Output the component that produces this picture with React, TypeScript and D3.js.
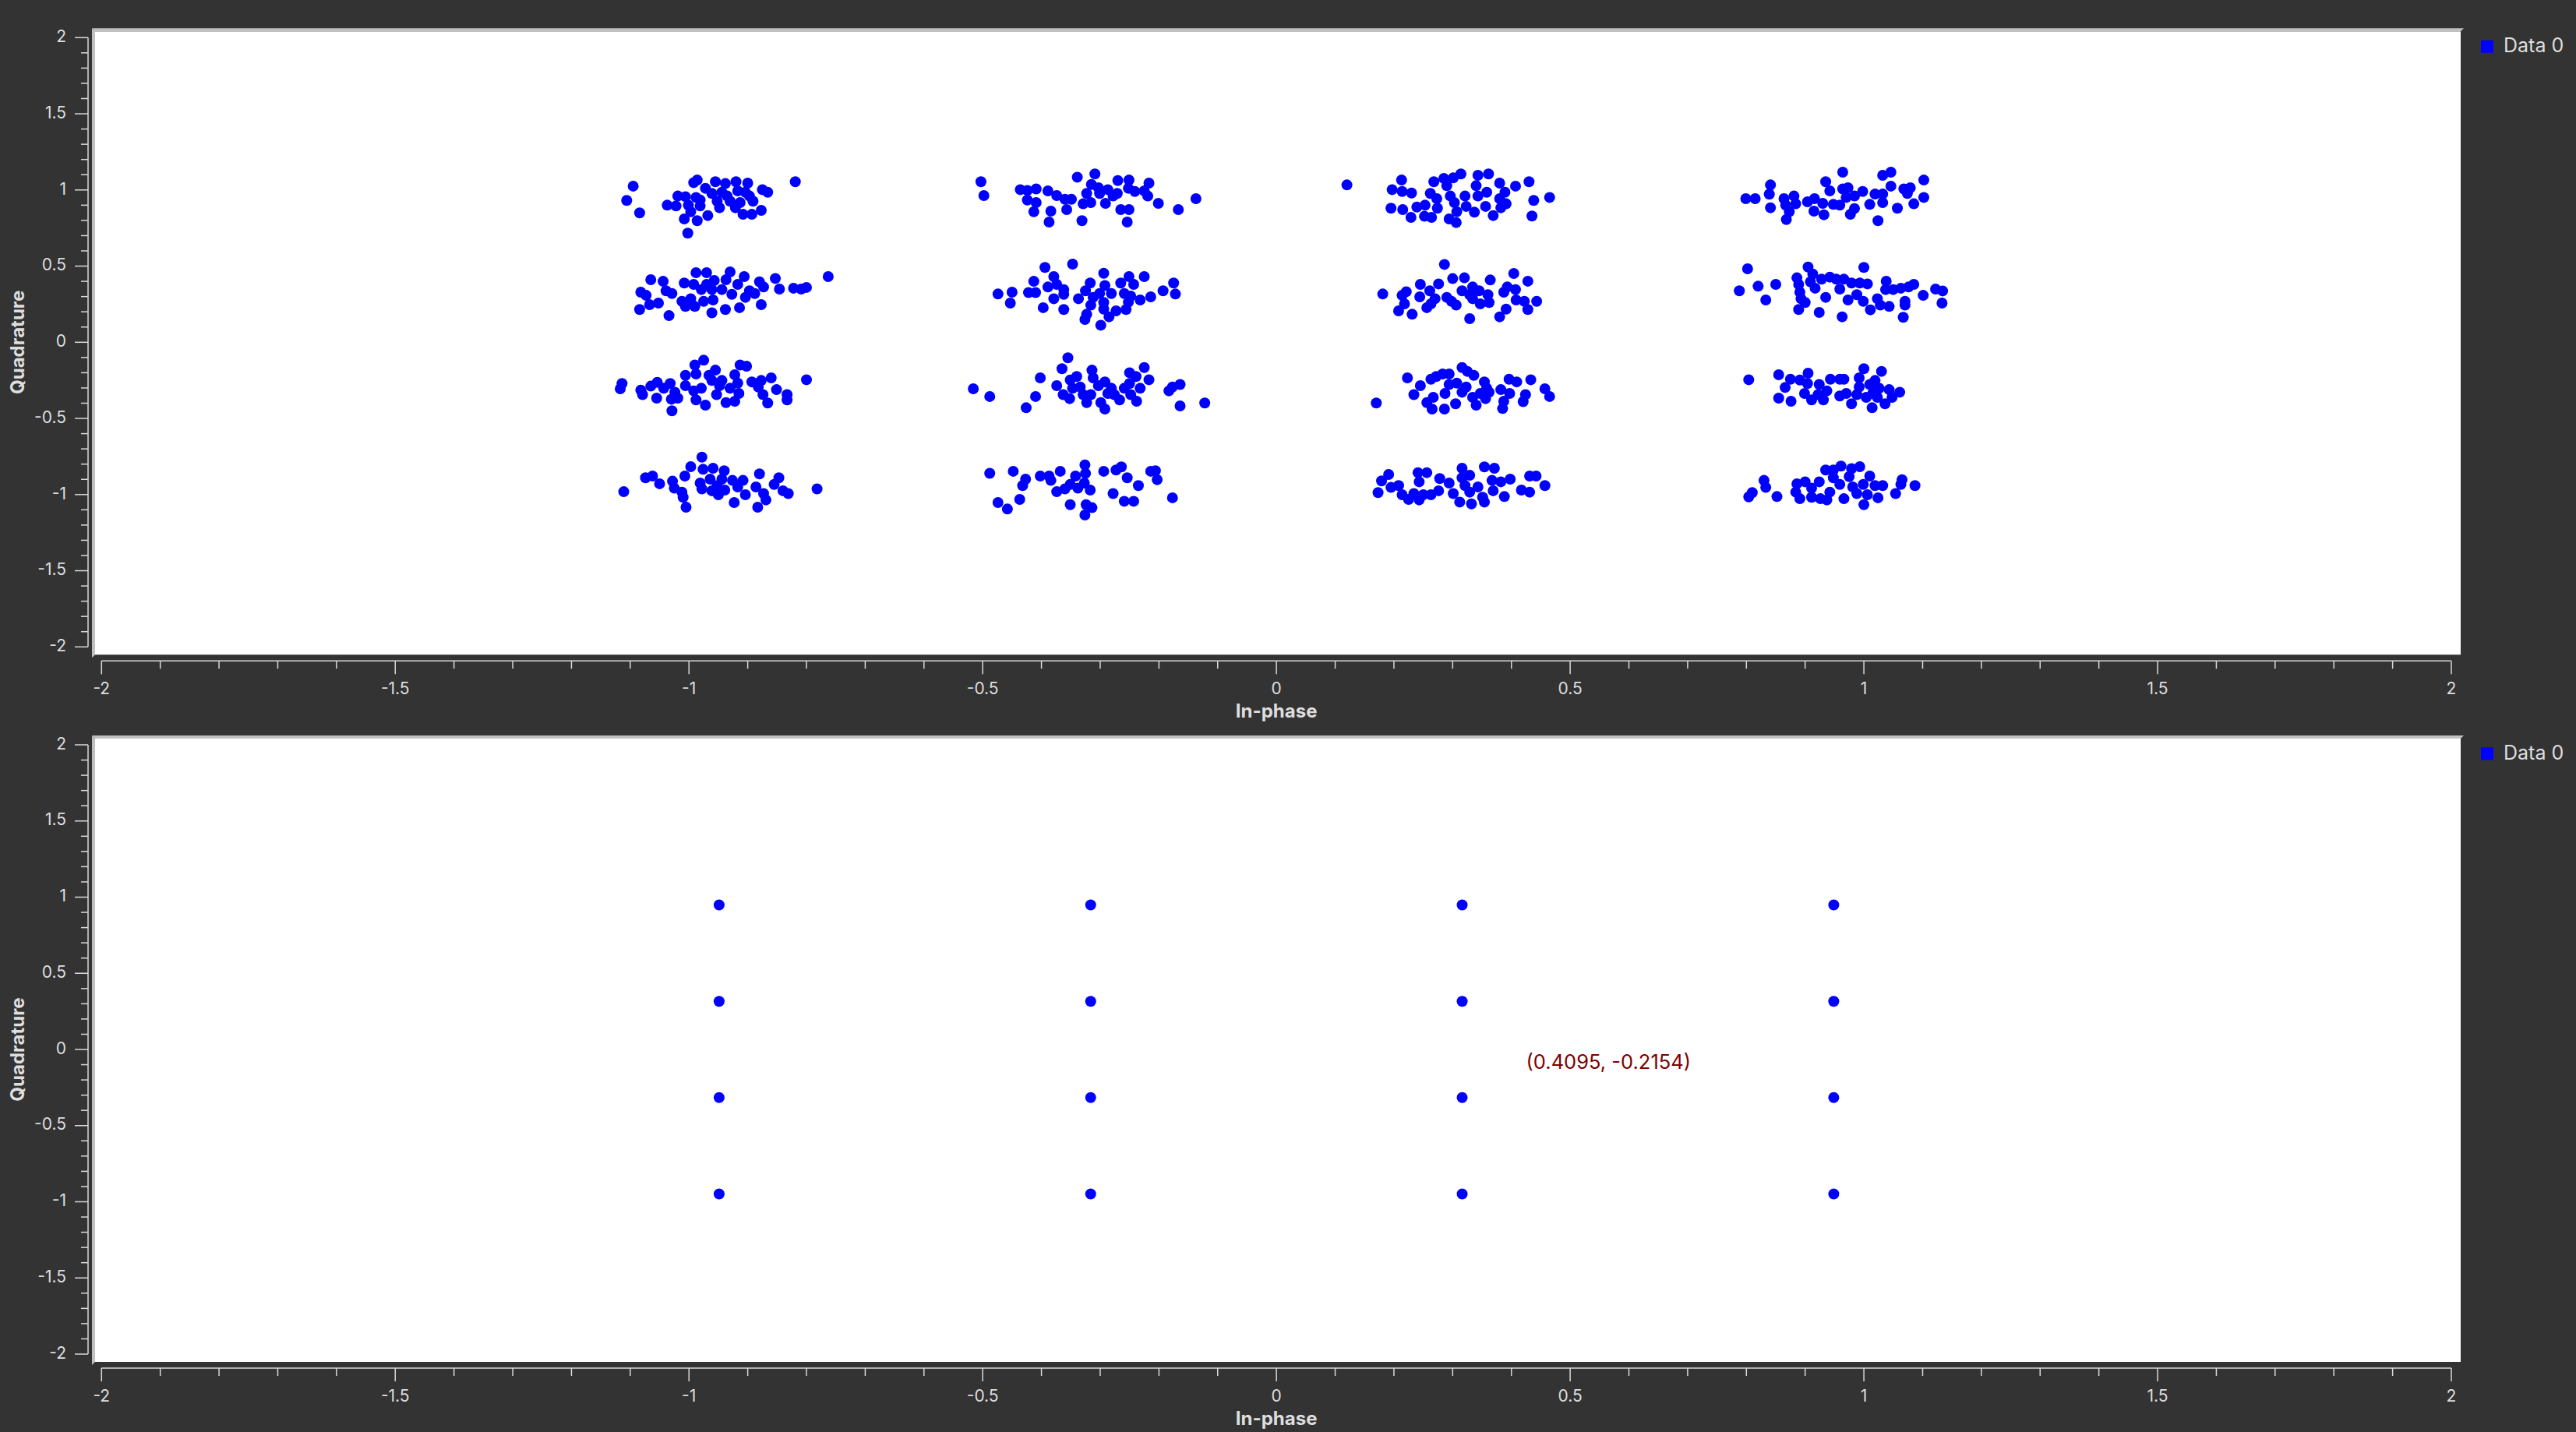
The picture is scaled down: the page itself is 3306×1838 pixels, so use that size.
import React, { useEffect } from "react"
import * as d3 from "d3"

type IQ = [number, number]

// received symbols, one array per constellation cluster: [in-phase, quadrature]
const rxA1: IQ[] = [
  [-1.095, 1.025], [-1.106, 0.931], [-1.084, 0.849], [-0.819, 1.054], [-0.986, 1.065], [-0.992, 1.048],
  [-0.955, 1.054], [-0.938, 1.042], [-0.92, 1.054], [-0.9, 1.045], [-0.875, 1.002], [-0.866, 0.985],
  [-0.972, 1.011], [-0.961, 0.977], [-0.944, 0.985], [-0.917, 0.994], [-0.904, 0.985], [-1.019, 0.96],
  [-1.006, 0.956], [-0.988, 0.951], [-0.981, 0.934], [-1.037, 0.9], [-1.022, 0.895], [-1.001, 0.9],
  [-0.981, 0.895], [-0.948, 0.883], [-0.93, 0.926], [-0.913, 0.917], [-0.891, 0.926], [-0.877, 0.866],
  [-0.908, 0.84], [-0.893, 0.84], [-0.921, 0.883], [-0.997, 0.857], [-1.008, 0.81], [-0.986, 0.798],
  [-0.968, 0.832], [-1.002, 0.716], [-0.935, 0.96], [-0.897, 0.96], [-0.952, 0.926],
]
const rxA2: IQ[] = [
  [-1.065, 0.411], [-1.044, 0.4], [-1.082, 0.329], [-1.073, 0.308], [-1.084, 0.215], [-1.067, 0.247],
  [-1.052, 0.257], [-1.034, 0.175], [-1.039, 0.338], [-1.029, 0.32], [-1.008, 0.389], [-0.988, 0.457],
  [-0.97, 0.457], [-0.957, 0.406], [-0.93, 0.462], [-0.937, 0.411], [-0.906, 0.431], [-0.917, 0.38],
  [-0.992, 0.38], [-0.979, 0.346], [-0.961, 0.346], [-0.944, 0.346], [-0.927, 0.315], [-1.012, 0.269],
  [-0.997, 0.286], [-1.006, 0.235], [-0.99, 0.235], [-0.975, 0.269], [-0.959, 0.278], [-0.961, 0.193],
  [-0.938, 0.215], [-0.914, 0.227], [-0.904, 0.295], [-0.897, 0.338], [-0.88, 0.397], [-0.873, 0.363],
  [-0.888, 0.32], [-0.877, 0.247], [-0.853, 0.419], [-0.846, 0.349], [-0.822, 0.355], [-0.809, 0.349],
  [-0.8, 0.36], [-0.763, 0.431], [-0.97, 0.38],
]
const rxA3: IQ[] = [
  [-1.114, -0.271], [-1.117, -0.305], [-1.082, -0.314], [-1.079, -0.344], [-1.065, -0.288], [-1.054, -0.263],
  [-1.043, -0.302], [-1.032, -0.271], [-1.055, -0.367], [-1.03, -0.374], [-1.019, -0.367], [-1.024, -0.328],
  [-1.029, -0.45], [-1.006, -0.217], [-0.988, -0.208], [-0.99, -0.149], [-0.975, -0.118], [-1.006, -0.285],
  [-0.992, -0.319], [-0.988, -0.378], [-0.972, -0.413], [-0.979, -0.302], [-0.961, -0.251], [-0.955, -0.183],
  [-0.966, -0.217], [-0.948, -0.285], [-0.953, -0.344], [-0.937, -0.396], [-0.922, -0.387], [-0.93, -0.302],
  [-0.917, -0.268], [-0.922, -0.213], [-0.913, -0.149], [-0.902, -0.157], [-0.915, -0.336], [-0.893, -0.26],
  [-0.877, -0.251], [-0.86, -0.234], [-0.882, -0.294], [-0.851, -0.311], [-0.874, -0.344], [-0.866, -0.399],
  [-0.833, -0.344], [-0.833, -0.378], [-0.8, -0.246], [-0.944, -0.251],
]
const rxA4: IQ[] = [
  [-1.111, -0.981], [-1.074, -0.89], [-1.062, -0.878], [-1.05, -0.929], [-1.028, -0.912], [-1.025, -0.958],
  [-1.012, -0.984], [-1.01, -1.018], [-1.005, -1.083], [-1.007, -0.878], [-0.997, -0.817], [-0.978, -0.754],
  [-0.976, -0.834], [-0.959, -0.827], [-0.94, -0.844], [-0.981, -0.924], [-0.978, -0.963], [-0.964, -0.899],
  [-0.952, -0.941], [-0.961, -0.975], [-0.95, -1.001], [-0.939, -0.97], [-0.944, -0.899], [-0.926, -0.907],
  [-0.908, -0.907], [-0.917, -0.95], [-0.904, -1.001], [-0.923, -1.052], [-0.88, -0.864], [-0.886, -0.95],
  [-0.873, -0.993], [-0.869, -1.035], [-0.883, -1.083], [-0.855, -0.933], [-0.847, -0.89], [-0.84, -0.975],
  [-0.831, -0.993], [-0.782, -0.963],
]
const rxB1: IQ[] = [
  [-0.503, 1.054], [-0.498, 0.963], [-0.436, 1.002], [-0.424, 0.997], [-0.409, 1.007], [-0.424, 0.934],
  [-0.409, 0.917], [-0.413, 0.857], [-0.389, 0.994], [-0.374, 0.963], [-0.36, 0.939], [-0.349, 0.939],
  [-0.384, 0.861], [-0.387, 0.789], [-0.357, 0.871], [-0.339, 1.084], [-0.309, 1.105], [-0.315, 1.036],
  [-0.303, 1.014], [-0.323, 0.977], [-0.329, 0.909], [-0.316, 0.917], [-0.331, 0.798], [-0.301, 0.977],
  [-0.287, 1.002], [-0.278, 0.96], [-0.27, 1.062], [-0.291, 0.912], [-0.271, 0.977], [-0.265, 0.871],
  [-0.251, 0.871], [-0.254, 0.789], [-0.251, 1.065], [-0.252, 1.011], [-0.241, 0.99], [-0.225, 0.994],
  [-0.217, 1.045], [-0.219, 0.96], [-0.201, 0.912], [-0.167, 0.871], [-0.137, 0.943],
]
const rxB2: IQ[] = [
  [-0.394, 0.491], [-0.347, 0.513], [-0.474, 0.317], [-0.45, 0.329], [-0.453, 0.257], [-0.422, 0.326],
  [-0.41, 0.326], [-0.413, 0.4], [-0.379, 0.431], [-0.389, 0.363], [-0.374, 0.38], [-0.362, 0.346],
  [-0.362, 0.315], [-0.379, 0.286], [-0.397, 0.227], [-0.362, 0.215], [-0.337, 0.286], [-0.325, 0.338],
  [-0.317, 0.389], [-0.316, 0.244], [-0.323, 0.184], [-0.326, 0.15], [-0.294, 0.453], [-0.292, 0.372],
  [-0.301, 0.32], [-0.281, 0.32], [-0.294, 0.261], [-0.294, 0.218], [-0.285, 0.167], [-0.299, 0.112],
  [-0.273, 0.206], [-0.256, 0.215], [-0.265, 0.389], [-0.251, 0.431], [-0.243, 0.38], [-0.259, 0.32],
  [-0.248, 0.303], [-0.252, 0.264], [-0.232, 0.278], [-0.214, 0.298], [-0.225, 0.431], [-0.193, 0.338],
  [-0.175, 0.389], [-0.172, 0.317], [-0.312, 0.295],
]
const rxB3: IQ[] = [
  [-0.516, -0.305], [-0.488, -0.356], [-0.426, -0.43], [-0.41, -0.356], [-0.402, -0.234], [-0.374, -0.285],
  [-0.365, -0.174], [-0.355, -0.102], [-0.363, -0.344], [-0.352, -0.37], [-0.351, -0.248], [-0.34, -0.225],
  [-0.347, -0.302], [-0.334, -0.294], [-0.323, -0.396], [-0.316, -0.344], [-0.314, -0.183], [-0.312, -0.234],
  [-0.303, -0.285], [-0.292, -0.26], [-0.299, -0.396], [-0.292, -0.438], [-0.287, -0.336], [-0.276, -0.344],
  [-0.281, -0.302], [-0.267, -0.378], [-0.259, -0.302], [-0.25, -0.2], [-0.239, -0.225], [-0.25, -0.271],
  [-0.232, -0.302], [-0.248, -0.344], [-0.238, -0.387], [-0.225, -0.166], [-0.217, -0.246], [-0.183, -0.319],
  [-0.177, -0.294], [-0.164, -0.277], [-0.164, -0.418], [-0.122, -0.399], [-0.329, -0.344],
]
const rxB4: IQ[] = [
  [-0.488, -0.86], [-0.448, -0.847], [-0.427, -0.899], [-0.432, -0.941], [-0.437, -1.032], [-0.474, -1.052],
  [-0.458, -1.095], [-0.402, -0.878], [-0.387, -0.878], [-0.384, -0.907], [-0.368, -0.847], [-0.374, -0.981],
  [-0.36, -0.963], [-0.351, -0.933], [-0.342, -0.878], [-0.326, -0.805], [-0.325, -0.861], [-0.327, -0.924],
  [-0.338, -0.958], [-0.317, -0.97], [-0.351, -1.066], [-0.324, -1.066], [-0.314, -1.086], [-0.326, -1.134],
  [-0.294, -0.847], [-0.273, -0.839], [-0.264, -0.818], [-0.254, -0.89], [-0.278, -0.993], [-0.235, -0.941],
  [-0.259, -1.044], [-0.243, -1.044], [-0.214, -0.847], [-0.203, -0.902], [-0.206, -0.844], [-0.177, -1.021],
]
const rxC1: IQ[] = [
  [0.12, 1.033], [0.213, 1.065], [0.197, 1.002], [0.214, 0.99], [0.23, 0.98], [0.195, 0.88],
  [0.215, 0.871], [0.229, 0.82], [0.239, 0.888], [0.253, 0.9], [0.252, 0.827], [0.264, 0.82],
  [0.262, 0.977], [0.273, 0.943], [0.274, 0.88], [0.268, 1.054], [0.285, 1.076], [0.301, 1.079],
  [0.314, 1.105], [0.29, 1.028], [0.296, 0.96], [0.303, 0.917], [0.307, 0.857], [0.294, 0.81],
  [0.306, 0.786], [0.321, 0.96], [0.323, 0.892], [0.34, 1.028], [0.343, 1.096], [0.361, 1.105],
  [0.343, 0.96], [0.337, 0.854], [0.358, 0.985], [0.356, 0.892], [0.369, 0.832], [0.38, 1.045],
  [0.389, 0.985], [0.407, 1.025], [0.38, 0.943], [0.391, 0.909], [0.382, 0.883], [0.43, 1.054],
  [0.438, 0.931], [0.435, 0.829], [0.465, 0.951],
]
const rxC2: IQ[] = [
  [0.286, 0.511], [0.181, 0.317], [0.214, 0.308], [0.221, 0.332], [0.218, 0.252], [0.208, 0.206],
  [0.231, 0.184], [0.245, 0.38], [0.244, 0.298], [0.261, 0.338], [0.276, 0.383], [0.27, 0.286],
  [0.256, 0.227], [0.263, 0.252], [0.29, 0.295], [0.298, 0.269], [0.306, 0.244], [0.3, 0.418],
  [0.32, 0.423], [0.316, 0.338], [0.329, 0.312], [0.334, 0.363], [0.345, 0.338], [0.334, 0.286],
  [0.329, 0.155], [0.347, 0.252], [0.36, 0.312], [0.362, 0.261], [0.364, 0.409], [0.387, 0.329],
  [0.393, 0.363], [0.404, 0.452], [0.407, 0.346], [0.408, 0.278], [0.391, 0.218], [0.38, 0.167],
  [0.422, 0.269], [0.428, 0.215], [0.428, 0.401], [0.443, 0.269],
]
const rxC3: IQ[] = [
  [0.17, -0.399], [0.223, -0.234], [0.234, -0.344], [0.245, -0.285], [0.256, -0.396], [0.265, -0.438],
  [0.267, -0.362], [0.263, -0.243], [0.272, -0.225], [0.283, -0.208], [0.294, -0.208], [0.287, -0.336],
  [0.286, -0.438], [0.294, -0.277], [0.305, -0.404], [0.307, -0.268], [0.316, -0.166], [0.325, -0.191],
  [0.336, -0.217], [0.323, -0.294], [0.316, -0.328], [0.334, -0.362], [0.34, -0.413], [0.347, -0.336],
  [0.354, -0.26], [0.358, -0.302], [0.356, -0.37], [0.362, -0.328], [0.382, -0.311], [0.396, -0.243],
  [0.409, -0.26], [0.397, -0.336], [0.387, -0.387], [0.385, -0.435], [0.433, -0.246], [0.424, -0.344],
  [0.42, -0.39], [0.457, -0.305], [0.465, -0.356],
]
const rxC4: IQ[] = [
  [0.173, -0.987], [0.179, -0.91], [0.191, -0.868], [0.195, -0.953], [0.208, -0.941], [0.214, -1.001],
  [0.225, -1.032], [0.241, -0.856], [0.256, -0.856], [0.243, -0.916], [0.234, -0.993], [0.243, -1.035],
  [0.25, -1.001], [0.263, -1.001], [0.276, -0.975], [0.278, -0.895], [0.294, -0.924], [0.301, -0.993],
  [0.312, -1.049], [0.316, -0.827], [0.316, -0.89], [0.329, -0.873], [0.321, -0.941], [0.329, -0.984],
  [0.332, -1.061], [0.343, -0.95], [0.354, -0.818], [0.371, -0.827], [0.351, -1.018], [0.354, -1.049],
  [0.367, -0.907], [0.369, -0.975], [0.382, -0.916], [0.398, -0.899], [0.388, -1.013], [0.417, -0.97],
  [0.431, -0.878], [0.442, -0.878], [0.431, -0.984], [0.457, -0.941],
]
const rxD1: IQ[] = [
  [0.799, 0.943], [0.815, 0.943], [0.841, 1.033], [0.839, 0.972], [0.841, 0.883], [0.864, 0.943],
  [0.881, 0.96], [0.867, 0.9], [0.884, 0.909], [0.873, 0.857], [0.868, 0.806], [0.904, 0.922],
  [0.916, 0.943], [0.93, 0.912], [0.915, 0.861], [0.932, 0.837], [0.935, 1.054], [0.942, 0.994],
  [0.948, 0.905], [0.964, 1.117], [0.964, 1.007], [0.973, 1.014], [0.959, 0.9], [0.97, 0.951],
  [0.984, 0.96], [0.984, 0.878], [0.977, 0.84], [0.998, 0.99], [1.01, 0.905], [1.019, 0.973],
  [1.032, 0.973], [1.032, 0.917], [1.024, 0.798], [1.032, 1.096], [1.046, 1.117], [1.046, 1.025],
  [1.057, 0.88], [1.068, 1.007], [1.079, 1.014], [1.074, 0.977], [1.085, 0.909], [1.102, 1.065],
  [1.102, 0.951],
]
const rxD2: IQ[] = [
  [0.802, 0.482], [0.788, 0.338], [0.82, 0.368], [0.833, 0.278], [0.85, 0.38], [0.886, 0.423],
  [0.889, 0.38], [0.891, 0.329], [0.893, 0.286], [0.9, 0.261], [0.889, 0.215], [0.905, 0.494],
  [0.913, 0.448], [0.909, 0.397], [0.917, 0.355], [0.924, 0.196], [0.928, 0.414], [0.942, 0.428],
  [0.935, 0.295], [0.953, 0.414], [0.959, 0.349], [0.966, 0.414], [0.973, 0.278], [0.963, 0.167],
  [0.979, 0.389], [0.993, 0.389], [0.988, 0.312], [1.0, 0.491], [1.006, 0.383], [0.999, 0.269],
  [1.011, 0.213], [1.023, 0.286], [1.028, 0.244], [1.038, 0.401], [1.037, 0.346], [1.043, 0.235],
  [1.05, 0.346], [1.063, 0.355], [1.07, 0.269], [1.07, 0.244], [1.067, 0.164], [1.085, 0.38],
  [1.076, 0.363], [1.101, 0.308], [1.122, 0.349], [1.134, 0.337], [1.133, 0.257],
]
const rxD3: IQ[] = [
  [0.804, -0.246], [0.855, -0.213], [0.866, -0.297], [0.855, -0.367], [0.876, -0.387], [0.875, -0.243],
  [0.891, -0.248], [0.905, -0.203], [0.904, -0.271], [0.899, -0.336], [0.911, -0.378], [0.924, -0.277],
  [0.922, -0.344], [0.931, -0.378], [0.943, -0.243], [0.937, -0.319], [0.959, -0.243], [0.966, -0.243],
  [0.959, -0.353], [0.97, -0.336], [0.979, -0.404], [0.992, -0.234], [1.0, -0.174], [0.992, -0.294],
  [0.988, -0.344], [1.004, -0.362], [1.01, -0.277], [1.019, -0.251], [1.015, -0.336], [1.014, -0.43],
  [1.026, -0.302], [1.023, -0.362], [1.03, -0.191], [1.043, -0.311], [1.048, -0.362], [1.036, -0.404],
  [1.061, -0.328],
]
const rxD4: IQ[] = [
  [0.804, -1.015], [0.81, -0.987], [0.83, -0.907], [0.833, -0.953], [0.852, -1.013], [0.886, -0.929],
  [0.884, -0.984], [0.891, -1.027], [0.9, -0.916], [0.911, -0.958], [0.911, -1.018], [0.924, -0.916],
  [0.926, -1.027], [0.937, -1.035], [0.935, -0.839], [0.942, -0.984], [0.948, -0.839], [0.948, -0.89],
  [0.961, -0.813], [0.959, -0.933], [0.966, -1.027], [0.975, -0.882], [0.979, -0.83], [0.993, -0.817],
  [0.981, -0.95], [0.988, -0.993], [0.999, -0.933], [1.01, -0.878], [1.006, -1.001], [1.0, -1.066],
  [1.019, -0.941], [1.024, -1.021], [1.032, -0.941], [1.054, -0.993], [1.065, -0.902], [1.063, -0.933],
  [1.087, -0.941],
]

const received: IQ[] = [
  ...rxA1, ...rxA2, ...rxA3, ...rxA4, ...rxB1, ...rxB2, ...rxB3, ...rxB4,
  ...rxC1, ...rxC2, ...rxC3, ...rxC4, ...rxD1, ...rxD2, ...rxD3, ...rxD4,
]

// ideal 16-QAM points (lower plot)
const ideal: IQ[] = [
  [-0.9487, 0.9487], [-0.9487, 0.3162], [-0.9487, -0.3162], [-0.9487, -0.9487],
  [-0.3162, 0.9487], [-0.3162, 0.3162], [-0.3162, -0.3162], [-0.3162, -0.9487],
  [0.3162, 0.9487], [0.3162, 0.3162], [0.3162, -0.3162], [0.3162, -0.9487],
  [0.9487, 0.9487], [0.9487, 0.3162], [0.9487, -0.3162], [0.9487, -0.9487],
]

const majorTicks = [-2, -1.5, -1, -0.5, 0, 0.5, 1, 1.5, 2]
const tickLabels = ["-2", "-1.5", "-1", "-0.5", "0", "0.5", "1", "1.5", "2"]
const seriesName = "Data 0"
const cursorText = "(0.4095, -0.2154)"
const cursorAt: IQ = [0.425, -0.093]

const W = 3306
const H = 1838
const BG = "#333333"
const AXIS = "#d9d9d9"
const LABEL = "#dedede"
const FONT = "Inter, 'Noto Sans', sans-serif"
const DOT = "#0000ff"

interface PanelProps {
  top: number
  points: IQ[]
  note?: { text: string; at: IQ }
}

function Panel({ top, points, note }: PanelProps) {
  const x = d3.scaleLinear().domain([-2, 2]).range([130.3, 3146])
  const y = d3.scaleLinear().domain([-2, 2]).range([top + 782, top])
  const minor = d3.range(-20, 21).map((d) => d / 10)
  const axisY = top + 800
  const frameTop = top - 8
  const frameBottom = top + 792

  return (
    <g>
      {/* plot area with bevel on top and left */}
      <rect x={122} y={frameTop} width={3036} height={frameBottom - frameTop} fill="#ffffff" />
      <polygon
        points={`118,${frameTop - 4} 3162,${frameTop - 4} 3158,${frameTop} 122,${frameTop}`}
        fill="#c0c0c0"
      />
      <polygon
        points={`118,${frameTop - 4} 122,${frameTop} 122,${frameBottom} 118,${frameBottom + 4}`}
        fill="#c0c0c0"
      />

      {points.map((p, i) => (
        <circle key={i} cx={x(p[0])} cy={y(p[1])} r={7} fill={DOT} />
      ))}

      {note && (
        <text
          x={x(note.at[0])}
          y={y(note.at[1])}
          fill="#800000"
          fontSize={25.5}
          fontFamily={FONT}
          dominantBaseline="middle"
        >
          {note.text}
        </text>
      )}

      {/* y axis */}
      <line x1={113} x2={113} y1={y(2)} y2={y(-2)} stroke={AXIS} strokeWidth={1.5} />
      {minor.map((d) => {
        const major = Math.abs(d * 2 - Math.round(d * 2)) < 1e-6
        return (
          <line
            key={`ym${d}`}
            x1={major ? 96 : 104}
            x2={113}
            y1={y(d)}
            y2={y(d)}
            stroke={AXIS}
            strokeWidth={1.5}
          />
        )
      })}
      {majorTicks.map((d, i) => (
        <text
          key={`yl${d}`}
          x={85}
          y={y(d)}
          textAnchor="end"
          dominantBaseline="middle"
          fill={LABEL}
          fontSize={21}
          fontFamily={FONT}
        >
          {tickLabels[i]}
        </text>
      ))}
      <text
        transform={`translate(24,${y(0)}) rotate(-90)`}
        textAnchor="middle"
        dominantBaseline="middle"
        fill={LABEL}
        fontSize={24}
        fontWeight="bold"
        fontFamily={FONT}
      >
        Quadrature
      </text>

      {/* x axis */}
      <line x1={x(-2)} x2={x(2)} y1={axisY} y2={axisY} stroke={AXIS} strokeWidth={1.5} />
      {minor.map((d) => {
        const major = Math.abs(d * 2 - Math.round(d * 2)) < 1e-6
        return (
          <line
            key={`xm${d}`}
            x1={x(d)}
            x2={x(d)}
            y1={axisY}
            y2={axisY + (major ? 17 : 10)}
            stroke={AXIS}
            strokeWidth={1.5}
          />
        )
      })}
      {majorTicks.map((d, i) => (
        <text
          key={`xl${d}`}
          x={x(d)}
          y={axisY + 37}
          textAnchor="middle"
          dominantBaseline="middle"
          fill={LABEL}
          fontSize={21}
          fontFamily={FONT}
        >
          {tickLabels[i]}
        </text>
      ))}
      <text
        x={x(0)}
        y={axisY + 66}
        textAnchor="middle"
        dominantBaseline="middle"
        fill={LABEL}
        fontSize={24}
        fontWeight="bold"
        fontFamily={FONT}
      >
        In-phase
      </text>

      {/* legend */}
      <rect x={3184} y={top + 3.4} width={16} height={16} fill={DOT} />
      <text
        x={3213}
        y={top + 12}
        dominantBaseline="middle"
        fill={LABEL}
        fontSize={25}
        fontFamily={FONT}
      >
        {seriesName}
      </text>
    </g>
  )
}

export default function App() {
  useEffect(() => {
    document.body.style.margin = "0"
    document.body.style.background = BG
  }, [])

  return (
    <svg width={W} height={H} style={{ display: "block" }}>
      <rect width={W} height={H} fill={BG} />
      <Panel top={48.3} points={received} />
      <Panel top={956} points={ideal} note={{ text: cursorText, at: cursorAt }} />
    </svg>
  )
}
